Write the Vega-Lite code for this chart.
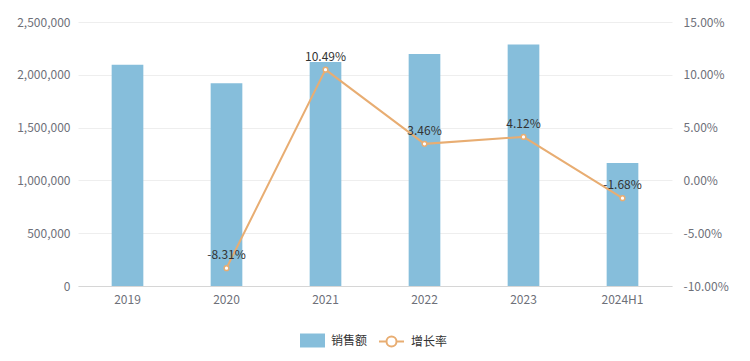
{
  "$schema": "https://vega.github.io/schema/vega-lite/v6.json",
  "width": 594,
  "height": 264,
  "autosize": {"type": "none"},
  "padding": {"left": 78, "top": 22, "right": 78, "bottom": 75},
  "background": "white",
  "config": {
    "view": {"stroke": null},
    "font": "Noto Sans CJK SC",
    "axis": {"labelFont": "Noto Sans CJK SC", "labelFontSize": 12, "labelColor": "#6e7079", "ticks": false, "domain": false},
    "legend": {"labelFont": "Noto Sans CJK SC", "labelFontSize": 12, "labelColor": "#333333"}
  },
  "data": {
    "values": [
      {"year": "2019", "sales": 2095000, "growth": null, "label": ""},
      {"year": "2020", "sales": 1921000, "growth": -0.0831, "label": "-8.31%"},
      {"year": "2021", "sales": 2122000, "growth": 0.1049, "label": "10.49%"},
      {"year": "2022", "sales": 2196000, "growth": 0.0346, "label": "3.46%"},
      {"year": "2023", "sales": 2286000, "growth": 0.0412, "label": "4.12%"},
      {"year": "2024H1", "sales": 1165000, "growth": -0.0168, "label": "-1.68%"}
    ]
  },
  "encoding": {
    "x": {
      "field": "year", "type": "nominal", "sort": null,
      "scale": {"paddingInner": 0.68, "paddingOuter": 0.34},
      "axis": {"title": null, "labelAngle": 0, "domain": true, "domainColor": "#d6d6d6", "labelPadding": 8}
    }
  },
  "layer": [
    {
      "mark": {"type": "bar", "color": "#86bedb"},
      "encoding": {
        "y": {
          "field": "sales", "type": "quantitative",
          "scale": {"domain": [0, 2500000], "nice": false},
          "axis": {"title": null, "values": [0, 500000, 1000000, 1500000, 2000000, 2500000], "format": ",d", "grid": true, "gridColor": "#eeeeee", "labelPadding": 8}
        },
        "fill": {
          "datum": "销售额",
          "scale": {"range": ["#86bedb"]},
          "legend": {"title": null, "orient": "none", "legendX": 222, "legendY": 306, "symbolType": "M-1,-0.56 H1 V0.56 H-1 Z", "symbolSize": 625, "symbolStrokeWidth": 0, "labelOffset": 6}
        }
      }
    },
    {
      "transform": [{"filter": "datum.growth != null"}],
      "encoding": {
        "y": {
          "field": "growth", "type": "quantitative",
          "scale": {"domain": [-0.1, 0.15], "nice": false},
          "axis": {"orient": "right", "title": null, "values": [-0.1, -0.05, 0, 0.05, 0.1, 0.15], "format": ".2%", "labelExpr": "replace(datum.label, '\u2212', '-')", "grid": false, "labelPadding": 11}
        }
      },
      "layer": [
        {
          "mark": {"type": "line", "color": "#e8ad72", "strokeWidth": 2},
          "encoding": {
            "stroke": {
              "datum": "增长率",
              "scale": {"range": ["#e8ad72"]},
              "legend": {"title": null, "orient": "none", "legendX": 300, "legendY": 306, "symbolType": "M-1,0 H-0.4 M0.4,0 H1 M-0.4,0 A0.4,0.4 0 1,1 0.4,0 A0.4,0.4 0 1,1 -0.4,0", "symbolSize": 625, "symbolStrokeWidth": 2, "symbolFillColor": "white", "labelOffset": 6}
            }
          }
        },
        {
          "mark": {"type": "point", "shape": "circle", "filled": true, "fill": "white", "stroke": "#e8ad72", "strokeWidth": 1.5, "size": 22, "opacity": 1}
        },
        {
          "mark": {"type": "text", "dy": -13, "fontSize": 12, "color": "#333333", "font": "Noto Sans CJK SC"},
          "encoding": {
            "text": {"field": "label"}
          }
        }
      ]
    }
  ],
  "resolve": {"scale": {"y": "independent"}}
}
